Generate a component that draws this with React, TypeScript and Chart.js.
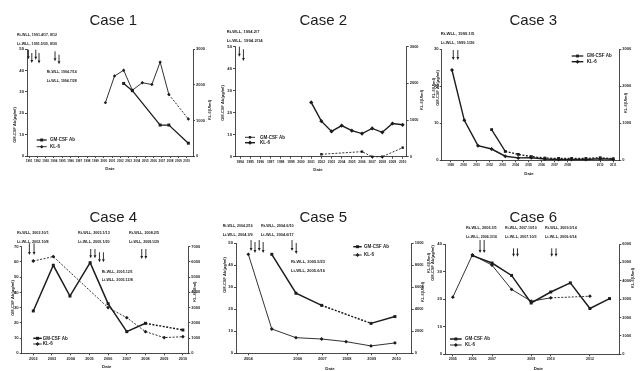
import React, { useEffect, useRef } from 'react';
import { Chart, registerables } from 'chart.js';

Chart.register(...registerables);

const PAGE_W = 644;
const PAGE_H = 371;
const FONT = "'Liberation Sans', Arial, Helvetica, sans-serif";
const INK = '#1c1c1c';
const DASH = [2, 1.5];

// ---------------- Case 1 ----------------
const c1TickPos = [1991, 1992, 1993, 1994, 1995, 1996, 1997, 1998, 1999, 2000, 2001, 2002, 2003, 2004, 2005, 2006, 2007, 2008, 2009, 2010];
const c1TickLabels = ['1991', '1992', '1993', '1994', '1995', '1996', '1997', '1998', '1999', '2000', '2001', '2002', '2003', '2004', '2005', '2006', '2007', '2008', '2009', '2010'];
const c1AbDates = [2002.4, 2003.45, 2006.8, 2007.85, 2010.2];
const c1AbValues = [34, 30.6, 14.5, 14.5, 6];
const c1KlDates = [2000.2, 2001.3, 2002.4, 2003.45, 2004.65, 2005.8, 2006.8, 2007.85, 2010.2];
const c1KlValues = [1500, 2250, 2410, 1850, 2060, 2010, 2640, 1730, 1040];
const c1ArrowDates = [1990.92, 1991.33, 1991.81, 1992.2, 1994.13, 1994.61];
const c1Notes = ['Rt-WLL, 1991.4/17, 8/12', 'Lt-WLL, 1991.5/30, 8/30', 'Rt-WLL, 1994.7/14', 'Lt-WLL, 1994.7/28'];

// ---------------- Case 2 ----------------
const c2TickPos = [1994, 1995, 1996, 1997, 1998, 1999, 2000, 2001, 2002, 2003, 2004, 2005, 2006, 2007, 2008, 2009, 2010];
const c2TickLabels = ['1994', '1995', '1996', '1997', '1998', '1999', '2000', '2001', '2002', '2003', '2004', '2005', '2006', '2007', '2008', '2009', '2010'];
const c2AbDates = [2002, 2006, 2007, 2008, 2010];
const c2AbValues = [1.1, 2.3, 0, 0, 4.1];
const c2KlDates = [2001, 2002, 2003, 2004, 2005, 2006, 2007, 2008, 2009, 2010];
const c2KlValues = [1480, 970, 690, 850, 710, 630, 770, 665, 905, 870];
const c2ArrowDates = [1993.93, 1994.33];
const c2Notes = ['Rt-WLL, 1994.2/7', 'Lt-WLL, 1994.2/14'];

// ---------------- Case 3 ----------------
const c3TickPos = [1999, 2000, 2001, 2002, 2003, 2004, 2005, 2006, 2007, 2008, 2010.5, 2011.5];
const c3TickLabels = ['1999', '2000', '2001', '2002', '2003', '2004', '2005', '2006', '2007', '2008', '2010', '2011'];
const c3AbDates = [2002.15, 2003.2, 2004.2, 2005.2, 2006.25, 2007.3, 2008.3, 2009.4, 2010.5, 2011.5];
const c3AbValues = [8.3, 2.4, 1.6, 1.0, 0.6, 0.5, 0.5, 0.5, 0.7, 0.4];
const c3KlDates = [1999.1, 2000.05, 2001.1, 2002.15, 2003.2, 2004.2, 2005.2, 2006.25, 2007.3, 2008.3, 2009.4, 2010.5, 2011.5];
const c3KlValues = [2440, 1080, 395, 305, 110, 65, 70, 35, 20, 20, 20, 40, 30];
const c3ArrowDates = [1999.2, 1999.55];
const c3Notes = ['Rt-WLL, 1999.1/5', 'Lt-WLL, 1999.1/26'];

// ---------------- Case 4 ----------------
const c4TickPos = [2002, 2003, 2004, 2005, 2006, 2007, 2008, 2009, 2010];
const c4TickLabels = ['2002', '2003', '2004', '2005', '2006', '2007', '2008', '2009', '2010'];
const c4AbDates = [2002, 2003.07, 2003.96, 2005.04, 2006, 2007, 2008, 2010];
const c4AbValues = [27.8, 57.8, 37.6, 59.5, 32.6, 14.2, 19.7, 15.3];
const c4KlDates = [2002, 2003.07, 2006, 2007, 2008, 2009, 2010];
const c4KlValues = [6060, 6350, 3000, 2340, 1420, 1030, 1090];
const c4ArrowDates = [2001.79, 2002.04, 2005.07, 2005.3, 2005.54, 2005.75, 2007.8, 2008.02];
const c4Notes = ['Rt-WLL, 2002.10/1', 'Lt-WLL, 2002.10/8', 'Rt-WLL, 2005.1/13', 'Lt-WLL, 2005.1/20', 'Rt-WLL, 2008.2/5', 'Lt-WLL, 2008.1/29', 'Rt-WLL, 2005.12/1', 'Lt-WLL, 2005.12/8'];

// ---------------- Case 5 ----------------
const c5TickPos = [2004, 2006, 2007, 2008, 2009, 2010];
const c5TickLabels = ['2004', '2006', '2007', '2008', '2009', '2010'];
const c5AbDates = [2004.95, 2005.93, 2006.97, 2008.97, 2009.94];
const c5AbValues = [45, 27.3, 21.8, 13.6, 16.7];
const c5KlDates = [2004, 2004.95, 2005.93, 2006.97, 2007.96, 2008.97, 2009.94];
const c5KlValues = [9000, 2210, 1420, 1300, 1060, 670, 940];
const c5ArrowDates = [2004.11, 2004.27, 2004.44, 2004.6, 2005.77, 2005.94];
const c5Notes = ['Rt-WLL, 2004.2/16', 'Lt-WLL, 2004.3/9', 'Rt-WLL, 2004.6/10', 'Lt-WLL, 2004.6/17', 'Rt-WLL, 2005.5/23', 'Lt-WLL, 2005.6/16'];

// ---------------- Case 6 ----------------
const c6TickPos = [2005, 2006, 2007, 2009, 2010, 2012];
const c6TickLabels = ['2005', '2006', '2007', '2009', '2010', '2012'];
const c6AbDates = [2006, 2007, 2008, 2009, 2010, 2011, 2012, 2013];
const c6AbValues = [35.8, 33.1, 28.6, 18.6, 22.6, 25.9, 16.6, 20.2];
const c6KlDates = [2005, 2006, 2007, 2008, 2009, 2010, 2012];
const c6KlValues = [3110, 5410, 4850, 3530, 2890, 3070, 3160];
const c6ArrowDates = [2006.39, 2006.6, 2008.1, 2008.3, 2010.05, 2010.27];
const c6Notes = ['Rt-WLL, 2006.3/1', 'Lt-WLL, 2006.3/16', 'Rt-WLL, 2007.10/10', 'Lt-WLL, 2007.10/3', 'Rt-WLL, 2009.5/14', 'Lt-WLL, 2009.6/14'];

const AB_LABEL = 'GM-CSF Ab';
const KL_LABEL = 'KL-6';
const AB_TITLE = 'GM-CSF Ab(\u03bcg/ml)';
const KL_TITLE = 'KL-6(U/ml)';

type Series = {
  label: string;
  xs: number[];
  ys: number[];
  axis: 'yL' | 'yR';
  shape: 'rect' | 'rectRot';
  width: number;
  radius: number;
  dashAll?: boolean;
  dashSeg?: number[];
};

type Panel = {
  title: string;
  titlePos: [number, number];
  area: [number, number, number, number];
  xMin: number;
  xMax: number;
  tickPos: number[];
  tickLabels: string[];
  xFont: number;
  yLMax: number;
  yLStep: number;
  yRMax: number;
  yRStep: number;
  series: Series[];
  arrows: number[];
  arrowTops: number[];
  arrowLens: number[];
  notes: string[];
  notePos: [number, number, number][];
  legend: { x1: number; x2: number; tx: number; ys: number[] };
  leftTitles: { text: string; x: number }[];
  leftTitleY: number;
  rightTitle: [number, number];
  datePos: [number, number];
};

const panels: Panel[] = [
  {
    title: 'Case 1', titlePos: [113.3, 25],
    area: [27, 49.3, 193, 156], xMin: 1990.75, xMax: 2010.76,
    tickPos: c1TickPos, tickLabels: c1TickLabels, xFont: 3,
    yLMax: 50, yLStep: 10, yRMax: 3000, yRStep: 1000,
    series: [
      { label: AB_LABEL, xs: c1AbDates, ys: c1AbValues, axis: 'yL', shape: 'rect', width: 1.3, radius: 2.1 },
      { label: KL_LABEL, xs: c1KlDates, ys: c1KlValues, axis: 'yR', shape: 'rectRot', width: 0.9, radius: 1.7, dashSeg: [7] },
    ],
    arrows: c1ArrowDates, arrowTops: [49.7, 53, 49.7, 53, 51.3, 54.7], arrowLens: [9.5, 10, 10, 10.5, 10, 9.5],
    notes: c1Notes, notePos: [[17, 36, 40], [17, 44.5, 40], [46.7, 72.5, 30], [46.7, 81.5, 30]],
    legend: { x1: 36.7, x2: 46.7, tx: 50, ys: [140, 146.7] },
    leftTitles: [{ text: AB_TITLE, x: 15 }], leftTitleY: 125, rightTitle: [210, 110], datePos: [110, 169],
  },
  {
    title: 'Case 2', titlePos: [323.3, 25],
    area: [235, 46.7, 406.7, 156.7], xMin: 1993.5, xMax: 2010.4,
    tickPos: c2TickPos, tickLabels: c2TickLabels, xFont: 3.3,
    yLMax: 50, yLStep: 10, yRMax: 3000, yRStep: 1000,
    series: [
      { label: AB_LABEL, xs: c2AbDates, ys: c2AbValues, axis: 'yL', shape: 'rect', width: 0.9, radius: 1.7, dashAll: true },
      { label: KL_LABEL, xs: c2KlDates, ys: c2KlValues, axis: 'yR', shape: 'rectRot', width: 1.4, radius: 2.1 },
    ],
    arrows: c2ArrowDates, arrowTops: [46.7, 49.3], arrowLens: [10, 11.7],
    notes: c2Notes, notePos: [[226.7, 33.3, 32.7], [226.7, 41.7, 36]],
    legend: { x1: 245, x2: 255, tx: 260, ys: [137.3, 142.7] },
    leftTitles: [{ text: AB_TITLE, x: 223.3 }], leftTitleY: 103, rightTitle: [422, 100], datePos: [318, 170],
  },
  {
    title: 'Case 3', titlePos: [533.3, 25],
    area: [441.7, 49.3, 619.3, 160.3], xMin: 1998.31, xMax: 2011.97,
    tickPos: c3TickPos, tickLabels: c3TickLabels, xFont: 3,
    yLMax: 30, yLStep: 10, yRMax: 3000, yRStep: 1000,
    series: [
      { label: AB_LABEL, xs: c3AbDates, ys: c3AbValues, axis: 'yL', shape: 'rect', width: 1.3, radius: 2.0, dashSeg: [1, 2, 3, 4, 5, 6, 7, 8] },
      { label: KL_LABEL, xs: c3KlDates, ys: c3KlValues, axis: 'yR', shape: 'rectRot', width: 1.4, radius: 2.0 },
    ],
    arrows: c3ArrowDates, arrowTops: [50, 50], arrowLens: [10, 10],
    notes: c3Notes, notePos: [[440.7, 35, 33.7], [440.7, 44, 33.7]],
    legend: { x1: 571.7, x2: 583.3, tx: 586.7, ys: [56, 61.7] },
    leftTitles: [{ text: KL_TITLE, x: 434 }, { text: AB_TITLE, x: 438.3 }], leftTitleY: 88, rightTitle: [626, 103], datePos: [529, 174],
  },
  {
    title: 'Case 4', titlePos: [113.3, 221.7],
    area: [21.7, 246.7, 188.3, 353.3], xMin: 2001.38, xMax: 2010.29,
    tickPos: c4TickPos, tickLabels: c4TickLabels, xFont: 3.8,
    yLMax: 70, yLStep: 10, yRMax: 7000, yRStep: 1000,
    series: [
      { label: AB_LABEL, xs: c4AbDates, ys: c4AbValues, axis: 'yL', shape: 'rect', width: 1.5, radius: 2.1, dashSeg: [6] },
      { label: KL_LABEL, xs: c4KlDates, ys: c4KlValues, axis: 'yR', shape: 'rectRot', width: 0.9, radius: 1.9, dashAll: true },
    ],
    arrows: c4ArrowDates, arrowTops: [243.3, 243.3, 249, 249, 252.3, 252.3, 249, 249], arrowLens: [11.7, 11.7, 9.3, 9.3, 10, 10, 10, 10],
    notes: c4Notes,
    notePos: [[17, 233.5, 31.7], [17, 242.5, 31.7], [78, 233.5, 31.7], [78, 242.5, 31.7], [129, 233.5, 30], [129, 242.5, 30], [101.7, 273.3, 31], [101.7, 281, 31]],
    legend: { x1: 33.3, x2: 41.7, tx: 42.7, ys: [338.3, 344] },
    leftTitles: [{ text: AB_TITLE, x: 12.7 }], leftTitleY: 298, rightTitle: [195, 291.7], datePos: [106.7, 366.5],
  },
  {
    title: 'Case 5', titlePos: [323.3, 221.7],
    area: [236, 243.3, 411.7, 353.3], xMin: 2003.5, xMax: 2010.62,
    tickPos: c5TickPos, tickLabels: c5TickLabels, xFont: 4,
    yLMax: 50, yLStep: 10, yRMax: 10000, yRStep: 2000,
    series: [
      { label: AB_LABEL, xs: c5AbDates, ys: c5AbValues, axis: 'yL', shape: 'rect', width: 1.5, radius: 2.1, dashSeg: [2] },
      { label: KL_LABEL, xs: c5KlDates, ys: c5KlValues, axis: 'yR', shape: 'rectRot', width: 0.9, radius: 1.9 },
    ],
    arrows: c5ArrowDates, arrowTops: [240, 242, 240, 242, 240, 243], arrowLens: [11, 11, 11, 11, 11, 11],
    notes: c5Notes,
    notePos: [[222.7, 227.3, 30], [222.7, 236, 30], [261, 227.3, 32.7], [261, 236, 32.7], [291, 262.7, 34], [291, 271.5, 34]],
    legend: { x1: 353.3, x2: 361.7, tx: 364, ys: [246.7, 255] },
    leftTitles: [{ text: AB_TITLE, x: 225 }], leftTitleY: 275, rightTitle: [423, 292], datePos: [330, 368.5],
  },
  {
    title: 'Case 6', titlePos: [533.3, 221.7],
    area: [445, 244, 619.3, 354.3], xMin: 2004.6, xMax: 2013.5,
    tickPos: c6TickPos, tickLabels: c6TickLabels, xFont: 3.6,
    yLMax: 40, yLStep: 10, yRMax: 6000, yRStep: 1000,
    series: [
      { label: AB_LABEL, xs: c6AbDates, ys: c6AbValues, axis: 'yL', shape: 'rect', width: 1.5, radius: 2.1 },
      { label: KL_LABEL, xs: c6KlDates, ys: c6KlValues, axis: 'yR', shape: 'rectRot', width: 0.9, radius: 1.9, dashSeg: [5] },
    ],
    arrows: c6ArrowDates, arrowTops: [240, 240, 248.3, 248.3, 248.3, 248.3], arrowLens: [13, 13, 8.5, 8.5, 8.5, 8.5],
    notes: c6Notes,
    notePos: [[466, 229.3, 31], [466, 238.3, 31], [505, 229.3, 31.7], [505, 238.3, 31.7], [545, 229.3, 31.7], [545, 238.3, 31.7]],
    legend: { x1: 450, x2: 461.7, tx: 465, ys: [339, 345] },
    leftTitles: [{ text: KL_TITLE, x: 428.8 }, { text: AB_TITLE, x: 433.3 }], leftTitleY: 263, rightTitle: [632.7, 278], datePos: [538.3, 368.5],
  },
];

function drawMarker(ctx: CanvasRenderingContext2D, shape: string, x: number, y: number, r: number) {
  ctx.beginPath();
  if (shape === 'rect') {
    const s = r * Math.SQRT1_2;
    ctx.rect(x - s, y - s, 2 * s, 2 * s);
  } else {
    ctx.moveTo(x, y - r);
    ctx.lineTo(x + r, y);
    ctx.lineTo(x, y + r);
    ctx.lineTo(x - r, y);
    ctx.closePath();
  }
  ctx.fill();
}

function makeChart(canvas: HTMLCanvasElement, p: Panel, idx: number) {
  const WL = 8;
  const WR = 12;
  const HX = 8;
  const [L, T, R, B] = p.area;

  const datasets = p.series.map((s) => {
    const ds: any = {
      label: s.label,
      data: s.xs.map((x, i) => ({ x, y: s.ys[i] })),
      yAxisID: s.axis,
      borderColor: INK,
      backgroundColor: INK,
      borderWidth: s.width,
      borderDash: s.dashAll ? DASH : [],
      pointStyle: s.shape,
      pointRadius: s.radius,
      pointBackgroundColor: INK,
      pointBorderColor: INK,
      pointBorderWidth: 0,
      tension: 0,
      fill: false,
      clip: false,
    };
    if (s.dashSeg) {
      const segs = s.dashSeg;
      ds.segment = { borderDash: (c: any) => (segs.includes(c.p0DataIndex) ? DASH : undefined) };
    }
    return ds;
  });

  const plainNumber = (v: any) => String(v);

  const axisBase = (size: number) => ({
    border: { display: true, color: INK, width: 0.8, dash: [1.5, 1] },
    grid: { display: true, drawOnChartArea: false, drawTicks: true, tickLength: 2, color: INK, lineWidth: 0.8 },
    ticks: { color: INK, font: { family: FONT, size, weight: 'bold' }, padding: 1 },
  });

  const xBase = axisBase(p.xFont);
  const lBase = axisBase(4.2);
  const rBase = axisBase(4);

  const decor = {
    id: 'decor' + idx,
    afterDraw(chart: any) {
      const ctx: CanvasRenderingContext2D = chart.ctx;
      const xs = chart.scales.x;
      ctx.save();
      ctx.fillStyle = INK;
      ctx.strokeStyle = INK;

      // title
      ctx.font = `15px ${FONT}`;
      ctx.textAlign = 'center';
      ctx.textBaseline = 'alphabetic';
      ctx.fillText(p.title, p.titlePos[0], p.titlePos[1]);

      // notes
      ctx.font = `bold 4.3px ${FONT}`;
      ctx.textAlign = 'left';
      p.notes.forEach((t, i) => {
        const [nx, ny, nw] = p.notePos[i];
        ctx.fillText(t, nx, ny, nw);
      });

      // arrows
      ctx.lineWidth = 0.9;
      p.arrows.forEach((d, i) => {
        const ax = xs.getPixelForValue(d);
        const top = p.arrowTops[i];
        const bot = top + p.arrowLens[i];
        ctx.beginPath();
        ctx.moveTo(ax, top);
        ctx.lineTo(ax, bot - 2.5);
        ctx.stroke();
        ctx.beginPath();
        ctx.moveTo(ax - 1.4, bot - 3);
        ctx.lineTo(ax + 1.4, bot - 3);
        ctx.lineTo(ax, bot);
        ctx.closePath();
        ctx.fill();
      });

      // legend
      p.series.forEach((s, i) => {
        const ly = p.legend.ys[i];
        ctx.lineWidth = s.width;
        ctx.setLineDash([]);
        ctx.beginPath();
        ctx.moveTo(p.legend.x1, ly);
        ctx.lineTo(p.legend.x2, ly);
        ctx.stroke();
        drawMarker(ctx, s.shape, (p.legend.x1 + p.legend.x2) / 2, ly, s.radius);
        ctx.font = `bold 4.5px ${FONT}`;
        ctx.textAlign = 'left';
        ctx.textBaseline = 'middle';
        ctx.fillText(s.label, p.legend.tx, ly);
      });

      // axis titles
      ctx.font = `bold 4px ${FONT}`;
      ctx.textAlign = 'center';
      ctx.textBaseline = 'middle';
      p.leftTitles.forEach((lt) => {
        ctx.save();
        ctx.translate(lt.x, p.leftTitleY);
        ctx.rotate(-Math.PI / 2);
        ctx.fillText(lt.text, 0, 0);
        ctx.restore();
      });
      ctx.save();
      ctx.translate(p.rightTitle[0], p.rightTitle[1]);
      ctx.rotate(-Math.PI / 2);
      ctx.fillText(KL_TITLE, 0, 0);
      ctx.restore();

      ctx.font = `bold 4.3px ${FONT}`;
      ctx.fillText('Date', p.datePos[0], p.datePos[1]);
      ctx.restore();
    },
  };

  return new Chart(canvas, {
    type: 'line',
    data: { datasets },
    options: {
      animation: false,
      responsive: false,
      devicePixelRatio: 1,
      events: [],
      layout: {
        padding: { left: L - WL, right: PAGE_W - R - WR, top: T, bottom: PAGE_H - B - HX },
      },
      plugins: {
        legend: { display: false },
        tooltip: { enabled: false },
        title: { display: false },
      },
      scales: {
        x: {
          type: 'linear',
          min: p.xMin,
          max: p.xMax,
          border: xBase.border,
          grid: xBase.grid,
          afterBuildTicks: (s: any) => {
            s.ticks = p.tickPos.map((v) => ({ value: v }));
          },
          afterFit: (s: any) => {
            s.height = HX;
          },
          ticks: {
            ...xBase.ticks,
            autoSkip: false,
            maxRotation: 0,
            minRotation: 0,
            callback: (_v: any, i: number) => p.tickLabels[i] ?? '',
          },
        },
        yL: {
          type: 'linear',
          position: 'left',
          min: 0,
          max: p.yLMax,
          border: lBase.border,
          grid: lBase.grid,
          ticks: { ...lBase.ticks, stepSize: p.yLStep, callback: plainNumber },
          afterFit: (s: any) => {
            s.width = WL;
          },
        },
        yR: {
          type: 'linear',
          position: 'right',
          min: 0,
          max: p.yRMax,
          border: rBase.border,
          grid: rBase.grid,
          ticks: { ...rBase.ticks, stepSize: p.yRStep, callback: plainNumber },
          afterFit: (s: any) => {
            s.width = WR;
          },
        },
      },
    } as any,
    plugins: [decor as any],
  });
}

function PanelCanvas({ p, idx }: { p: Panel; idx: number }) {
  const ref = useRef<HTMLCanvasElement | null>(null);
  useEffect(() => {
    if (!ref.current) return;
    const chart = makeChart(ref.current, p, idx);
    return () => chart.destroy();
  }, [p, idx]);
  return (
    <canvas
      ref={ref}
      width={PAGE_W}
      height={PAGE_H}
      style={{ position: 'absolute', left: 0, top: 0, width: PAGE_W, height: PAGE_H }}
    />
  );
}

export default function App() {
  return (
    <div
      style={{
        position: 'absolute',
        left: 0,
        top: 0,
        width: PAGE_W,
        height: PAGE_H,
        background: '#ffffff',
        overflow: 'hidden',
      }}
    >
      {panels.map((p, i) => (
        <PanelCanvas key={i} p={p} idx={i} />
      ))}
    </div>
  );
}
